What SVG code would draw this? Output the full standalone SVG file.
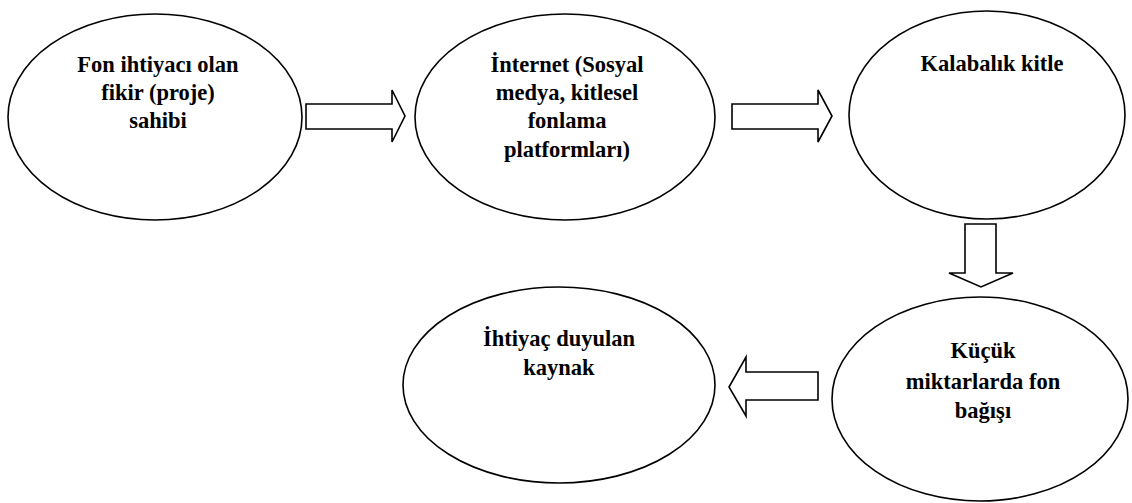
<svg xmlns="http://www.w3.org/2000/svg" width="1132" height="503" viewBox="0 0 1132 503">
<style>
.node ellipse{fill:#fff;stroke:#000;stroke-width:1.6}
.node text{font-weight:bold;font-size:22.5px;fill:#000;text-anchor:middle}
.conn polygon{fill:#fff;stroke:#000;stroke-width:1.6;stroke-linejoin:miter}
</style>
<rect width="1132" height="503" fill="#fff"/>
<g font-family="'Liberation Serif', 'Times New Roman', 'DejaVu Serif', serif">
<g id="n1" class="node">
<ellipse cx="155" cy="117" rx="147" ry="103"/>
<text x="158" y="72">Fon ihtiyacı olan</text>
<text x="158" y="100">fikir (proje)</text>
<text x="158" y="128">sahibi</text>
</g>
<g id="n2" class="node">
<ellipse cx="565" cy="117" rx="150" ry="103"/>
<text x="567" y="72">İnternet (Sosyal</text>
<text x="567" y="100">medya, kitlesel</text>
<text x="567" y="128">fonlama</text>
<text x="567" y="157">platformları)</text>
</g>
<g id="n3" class="node">
<ellipse cx="987" cy="115" rx="138" ry="104"/>
<text x="992" y="71">Kalabalık kitle</text>
</g>
<g id="n4" class="node">
<ellipse cx="559" cy="385" rx="156" ry="98"/>
<text x="559" y="346">İhtiyaç duyulan</text>
<text x="559" y="375">kaynak</text>
</g>
<g id="n5" class="node">
<ellipse cx="980" cy="399" rx="148" ry="102"/>
<text x="983" y="358">Küçük</text>
<text x="983" y="389">miktarlarda fon</text>
<text x="983" y="418">bağışı</text>
</g>
</g>
<g id="connectors" class="conn">
<polygon points="306,104 392,104 392,90 405,116 392,142 392,129 306,129"/>
<polygon points="732,104 818,104 818,90 832,116 818,142 818,129 732,129"/>
<polygon points="965,224 996,224 996,273 1013,273 981,287 949,273 965,273"/>
<polygon points="818,372 746,372 746,357 729,387 746,416 746,400 818,400"/>
</g>
</svg>
